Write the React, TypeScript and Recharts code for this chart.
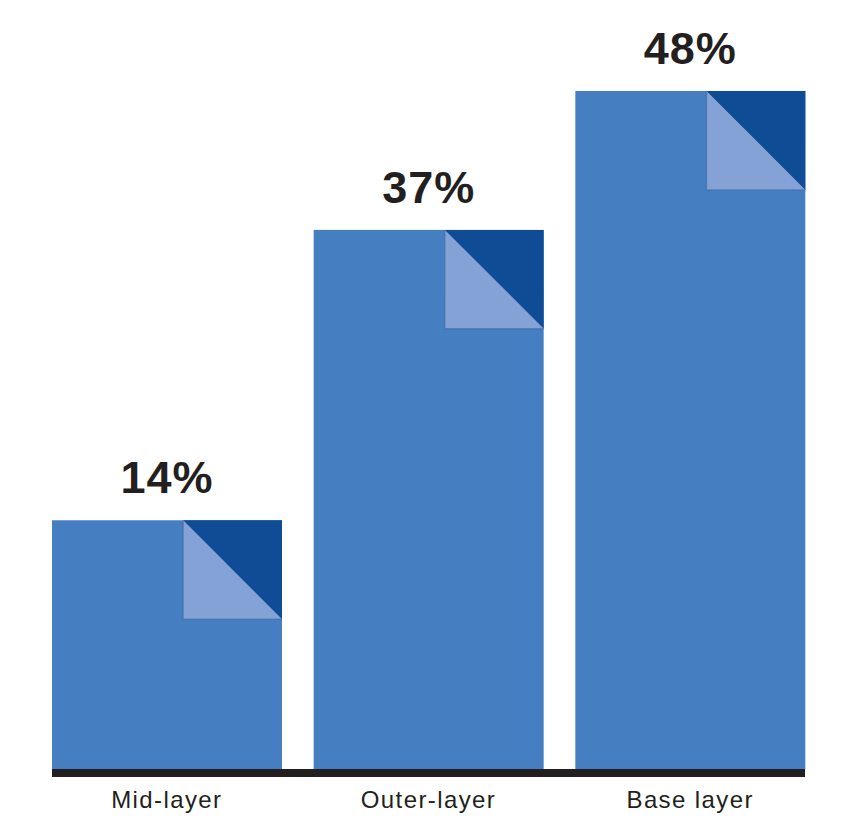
import React from 'react';
import { BarChart, Bar, XAxis, YAxis, LabelList } from 'recharts';

const categories = ['Mid-layer', 'Outer-layer', 'Base layer'];
const shares = [14, 37, 48];

const barColor = '#457fc1';
const foldDark = '#0f4c95';
const foldLight = '#84a2d6';
const textColor = '#231f20';
const fontFamily = '"Liberation Sans", Arial, Helvetica, sans-serif';

const data = categories.map((name, i) => ({ name, value: shares[i] }));

// bar with a folded page corner, stretched down to the bottom of the plot
const FoldedBar = (props: any) => {
  const { x, y, width, height, background } = props;
  const bottom = background ? background.y + background.height : y + height;
  const f = width * 0.43;
  const fx = x + width - f;
  return (
    <g>
      <rect x={x} y={y} width={width} height={bottom - y} fill={barColor} />
      <polygon points={`${fx},${y} ${x + width},${y} ${x + width},${y + f}`} fill={foldDark} />
      <polygon points={`${fx},${y} ${fx},${y + f} ${x + width},${y + f}`} fill={foldLight} />
      <polyline
        points={`${fx},${y} ${fx},${y + f} ${x + width},${y + f}`}
        fill="none"
        stroke="#3d6aa6"
        strokeOpacity={0.6}
        strokeWidth={1.5}
      />
    </g>
  );
};

export default function App() {
  return (
    <div style={{ position: 'absolute', left: 0, top: 0, background: '#fff' }}>
      <BarChart
        width={848}
        height={822}
        data={data}
        margin={{ top: 91, right: 43, left: 52, bottom: 13 }}
        barSize={230}
      >
        <XAxis
          dataKey="name"
          height={40}
          tickLine={false}
          tickMargin={16}
          padding={{ left: -16, right: -16 }}
          axisLine={{ stroke: textColor, strokeWidth: 8, transform: 'translate(0,4)' }}
          tick={{ fill: textColor, fontSize: 24, fontFamily, letterSpacing: 1.4 }}
          interval={0}
        />
        <YAxis hide domain={[-5.7, 48]} />
        <Bar dataKey="value" shape={<FoldedBar />} isAnimationActive={false}>
          <LabelList
            dataKey="value"
            position="top"
            offset={27}
            formatter={(v: any) => `${v}%`}
            style={{ fill: textColor, fontSize: 45, fontWeight: 'bold', fontFamily, letterSpacing: 1 }}
          />
        </Bar>
      </BarChart>
    </div>
  );
}
